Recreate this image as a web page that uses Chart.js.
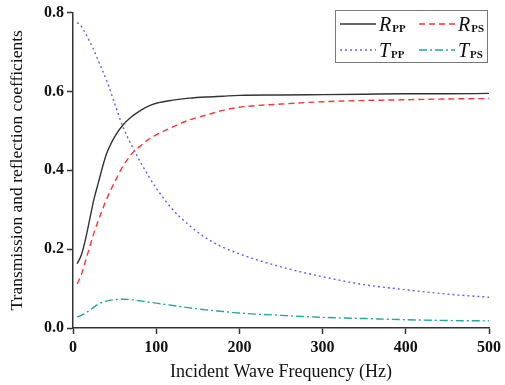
<!DOCTYPE html>
<html lang="en">
<head>
    <meta charset="UTF-8">
    <title>Transmission and reflection coefficients</title>
    <script src="https://cdn.jsdelivr.net/npm/chart.js"></script>
    <style>
        * { margin: 0; padding: 0; box-sizing: border-box; }
        body { background: #fff; width: 505px; height: 385px; overflow: hidden; }
        #wrap { position: relative; width: 505px; height: 385px; }
    </style>
</head>
<body>
    <div id="wrap"><canvas id="myChart"></canvas></div>

    <script>
        // frequencies (Hz) and curves
        const freq = [5, 10, 15, 20, 25, 30, 40, 50, 60, 70, 80, 90, 100, 120, 140, 160, 180, 200, 250, 300, 350, 400, 450, 500];
        const rpp = [0.163, 0.185, 0.225, 0.275, 0.325, 0.365, 0.44, 0.485, 0.515, 0.535, 0.55, 0.562, 0.57, 0.578, 0.583, 0.586, 0.588, 0.59, 0.591, 0.592, 0.593, 0.594, 0.594, 0.595];
        const rps = [0.112, 0.135, 0.17, 0.205, 0.24, 0.27, 0.325, 0.37, 0.41, 0.44, 0.46, 0.477, 0.49, 0.51, 0.528, 0.54, 0.552, 0.56, 0.568, 0.574, 0.577, 0.579, 0.581, 0.582];
        const tpp = [0.775, 0.765, 0.747, 0.727, 0.705, 0.68, 0.63, 0.57, 0.51, 0.465, 0.425, 0.388, 0.355, 0.30, 0.26, 0.228, 0.205, 0.188, 0.155, 0.13, 0.11, 0.097, 0.086, 0.078];
        const tps = [0.028, 0.032, 0.038, 0.045, 0.053, 0.06, 0.068, 0.072, 0.073, 0.072, 0.069, 0.066, 0.063, 0.057, 0.051, 0.046, 0.042, 0.038, 0.032, 0.027, 0.024, 0.021, 0.019, 0.018];

        const seriesNames = [['R', 'PP'], ['R', 'PS'], ['T', 'PP'], ['T', 'PS']];

        const pts = arr => arr.map((v, i) => ({ x: freq[i], y: v }));

        const serif = "'Liberation Serif', 'DejaVu Serif', serif";
        const axisColor = '#333';

        // legend box drawn inside the plot, top right
        const boxLegend = {
            id: 'boxLegend',
            afterDraw(chart) {
                const ctx = chart.ctx;
                ctx.save();
                ctx.strokeStyle = '#777';
                ctx.lineWidth = 1;
                ctx.strokeRect(335.5, 10.5, 152, 52);
                const cells = [
                    { x: 340, y: 24 }, { x: 419, y: 24 },
                    { x: 340, y: 50 }, { x: 419, y: 50 }
                ];
                chart.data.datasets.forEach((ds, i) => {
                    const c = cells[i];
                    ctx.beginPath();
                    ctx.setLineDash(ds.borderDash || []);
                    ctx.strokeStyle = ds.borderColor;
                    ctx.lineWidth = ds.borderWidth;
                    ctx.moveTo(c.x, c.y);
                    ctx.lineTo(c.x + 36, c.y);
                    ctx.stroke();
                    ctx.setLineDash([]);
                    ctx.fillStyle = '#111';
                    ctx.textBaseline = 'alphabetic';
                    ctx.font = "italic 20px " + serif;
                    ctx.fillText(seriesNames[i][0], c.x + 39, c.y + 7);
                    const w = ctx.measureText(seriesNames[i][0]).width;
                    ctx.font = "bold 11px " + serif;
                    ctx.fillText(seriesNames[i][1], c.x + 39 + w + 1, c.y + 8);
                });
                ctx.restore();
            }
        };

        const ctx = document.getElementById('myChart').getContext('2d');
        const chart = new Chart(ctx, {
            type: 'line',
            data: {
                datasets: [
                    { label: 'Rpp', data: pts(rpp), borderColor: '#333', borderWidth: 1.4 },
                    { label: 'Rps', data: pts(rps), borderColor: '#ff3333', borderWidth: 1.4, borderDash: [6, 4] },
                    { label: 'Tpp', data: pts(tpp), borderColor: '#6060ff', borderWidth: 1.4, borderDash: [2, 3] },
                    { label: 'Tps', data: pts(tps), borderColor: '#1fa8a0', borderWidth: 1.4, borderDash: [8, 3, 2, 3] }
                ]
            },
            options: {
                responsive: true,
                maintainAspectRatio: false,
                animation: false,
                elements: { point: { radius: 0 }, line: { cubicInterpolationMode: 'monotone' } },
                layout: { padding: { top: 9, right: 12, left: 0, bottom: 0 } },
                scales: {
                    x: {
                        type: 'linear',
                        min: 0,
                        max: 500,
                        afterFit: s => { s.height = 57; },
                        ticks: { stepSize: 100, color: '#111', font: { family: serif, size: 16, weight: 'bold' }, padding: 4 },
                        grid: { drawOnChartArea: false, tickLength: 6, tickColor: axisColor, tickWidth: 1.5 },
                        border: { color: axisColor, width: 1.5 },
                        title: {
                            display: true,
                            text: 'Incident Wave Frequency (Hz)',
                            color: '#111',
                            font: { family: serif, size: 18 },
                            padding: { top: 0, bottom: 2 }
                        }
                    },
                    y: {
                        min: 0,
                        max: 0.8,
                        afterFit: s => { s.width = 73; },
                        ticks: { stepSize: 0.2, color: '#111', font: { family: serif, size: 16, weight: 'bold' }, padding: 3,
                                 callback: v => v.toFixed(1) },
                        grid: { drawOnChartArea: false, tickLength: 6, tickColor: axisColor, tickWidth: 1.5 },
                        border: { color: axisColor, width: 1.5 },
                        title: {
                            display: true,
                            text: 'Transmission and reflection coefficients',
                            color: '#111',
                            font: { family: serif, size: 17.5 },
                            padding: { top: 7, bottom: 0 }
                        }
                    }
                },
                plugins: {
                    legend: { display: false },
                    tooltip: { enabled: false }
                }
            },
            plugins: [boxLegend]
        });
    </script>
</body>
</html>
